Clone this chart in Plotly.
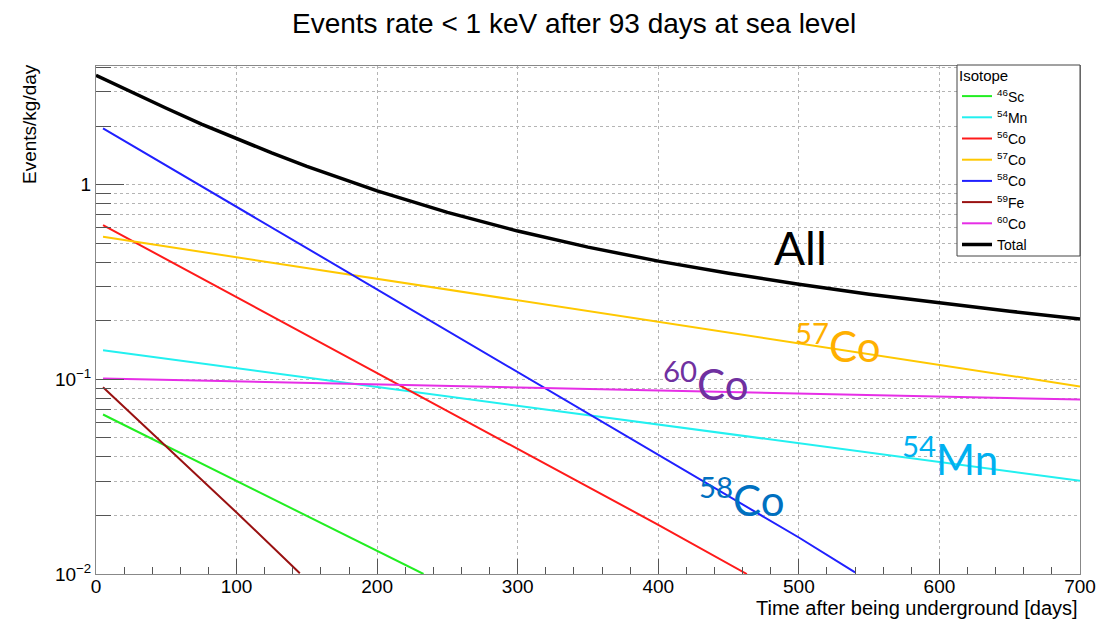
import plotly.graph_objects as go

# ---- data (days, events/kg/day) ----
sc46_days = [5, 100, 200, 233]
sc46_vals = [0.066, 0.0301, 0.0131, 0.0100]

mn54_days = [5, 100, 200, 300, 400, 500, 600, 700]
mn54_vals = [0.141, 0.1142, 0.0914, 0.0732, 0.0586, 0.0470, 0.0376, 0.0301]

co56_days = [5, 100, 200, 300, 400, 463]
co56_vals = [0.62, 0.264, 0.108, 0.0438, 0.0179, 0.0100]

co57_days = [5, 100, 200, 300, 400, 500, 600, 700]
co57_vals = [0.54, 0.424, 0.328, 0.254, 0.197, 0.153, 0.118, 0.092]

co58_days = [5, 100, 200, 300, 400, 500, 540]
co58_vals = [1.95, 0.77, 0.29, 0.109, 0.041, 0.0154, 0.0102]

fe59_days = [5, 50, 100, 145]
fe59_vals = [0.091, 0.0451, 0.0207, 0.0101]

co60_days = [5, 100, 200, 300, 400, 500, 600, 700]
co60_vals = [0.101, 0.0977, 0.0942, 0.0910, 0.0879, 0.0846, 0.0815, 0.0787]

total_days = [0, 25, 50, 75, 100, 125, 150, 175, 200, 250, 300, 350, 400,
              450, 500, 550, 600, 650, 700]
total_vals = [3.65, 2.99, 2.47, 2.05, 1.72, 1.456, 1.242, 1.069, 0.929, 0.721, 0.578,
              0.478, 0.405, 0.351, 0.308, 0.274, 0.247, 0.224, 0.204]

series_names = ["<sup>46</sup>Sc", "<sup>54</sup>Mn", "<sup>56</sup>Co", "<sup>57</sup>Co",
                "<sup>58</sup>Co", "<sup>59</sup>Fe", "<sup>60</sup>Co", "Total"]
series_x = [sc46_days, mn54_days, co56_days, co57_days, co58_days, fe59_days, co60_days, total_days]
series_y = [sc46_vals, mn54_vals, co56_vals, co57_vals, co58_vals, fe59_vals, co60_vals, total_vals]
series_colors = ["#22ee22", "#22f0f0", "#ff1a1a", "#ffc800", "#2020ff", "#991111", "#e62ee6", "#000000"]
series_widths = [2, 2, 2, 2, 2, 2, 2, 3.5]

x_ticks = [0, 100, 200, 300, 400, 500, 600, 700]
y_tickvals = [0.01, 0.1, 1]
y_ticktext = ["10<sup>\u22122</sup>", "10<sup>\u22121</sup>", "1"]
y_minor = [0.02, 0.03, 0.04, 0.05, 0.06, 0.07, 0.08, 0.09,
           0.2, 0.3, 0.4, 0.5, 0.6, 0.7, 0.8, 0.9, 2, 3, 4]

title_text = "Events rate < 1 keV after 93 days at sea level"
x_title = "Time after being underground [days]"
y_title = "Events/kg/day"

labels = ["All", "<sup>57</sup>Co", "<sup>60</sup>Co", "<sup>54</sup>Mn", "<sup>58</sup>Co"]
label_colors = ["#000000", "#ffb000", "#7030a0", "#00b0f0", "#0070c0"]
label_sizes = [46, 42, 42, 42, 42]
label_px = [800, 838, 706, 950, 742]
label_py = [247, 343, 381, 456, 497]

# ---- figure ----
W, H = 1096, 619
L, R, T, B = 96, 16, 66, 45
pw, ph = W - L - R, H - T - B
SANS = "Liberation Sans, Arial, sans-serif"


def px2paper(px, py):
    return (px - L) / pw, (H - B - py) / ph


fig = go.Figure()
for nm, xs, ys, c, w in zip(series_names, series_x, series_y, series_colors, series_widths):
    fig.add_trace(go.Scatter(x=xs, y=ys, mode="lines", name=nm,
                             line=dict(color=c, width=w)))

# legend box (fixed size like the reference)
bx0, by0 = px2paper(957, 256)
bx1, by1 = px2paper(1080, 65)
fig.add_shape(type="rect", xref="paper", yref="paper", x0=bx0, y0=by0, x1=bx1, y1=by1,
              line=dict(color="#444444", width=1), fillcolor="white", layer="above")

gridc = "#b4b4b4"
lgx, lgy = px2paper(957, 61)
fig.update_layout(
    width=W, height=H,
    margin=dict(l=L, r=R, t=T, b=B, pad=0, autoexpand=False),
    paper_bgcolor="white", plot_bgcolor="white",
    font=dict(family=SANS, color="#000000", size=16),
    showlegend=True,
    legend=dict(
        x=lgx, y=lgy, xanchor="left", yanchor="top",
        bgcolor="rgba(0,0,0,0)", borderwidth=0,
        font=dict(size=14, family=SANS),
        title=dict(text="Isotope", font=dict(size=15)),
        itemwidth=30, tracegroupgap=0,
    ),
    xaxis=dict(
        range=[0, 700], tickvals=x_ticks, ticks="inside", ticklen=15, tickcolor="#555555",
        showline=True, linecolor="#888888", linewidth=1, mirror=True,
        showgrid=True, gridcolor=gridc, griddash="dot", gridwidth=1,
        zeroline=False, tickfont=dict(size=19), automargin=False, ticklabelstandoff=-5,
        minor=dict(dtick=20, ticks="inside", ticklen=7, tickcolor="#555555", showgrid=False),
    ),
    yaxis=dict(
        type="log", range=[-2, 0.61], tickvals=y_tickvals, ticktext=y_ticktext,
        ticks="inside", ticklen=28, tickcolor="#555555",
        showline=True, linecolor="#888888", linewidth=1, mirror=True,
        showgrid=True, gridcolor=gridc, griddash="dot", gridwidth=1,
        zeroline=False, tickfont=dict(size=19), automargin=False,
        minor=dict(tickvals=y_minor, ticks="inside", ticklen=15, tickcolor="#555555",
                   showgrid=True, gridcolor=gridc, griddash="dot", gridwidth=1),
    ),
)

annotations = []
tx, ty = px2paper(574, 24)
annotations.append(dict(text=title_text, xref="paper", yref="paper", x=tx, y=ty,
                        xanchor="center", yanchor="middle", showarrow=False,
                        font=dict(size=28, family=SANS)))
ax_, ay_ = px2paper(1080, 608)
annotations.append(dict(text=x_title, xref="paper", yref="paper", x=ax_, y=ay_,
                        xanchor="right", yanchor="middle", showarrow=False,
                        font=dict(size=20, family=SANS)))
yx, yy = px2paper(29, 124)
annotations.append(dict(text=y_title, xref="paper", yref="paper", x=yx, y=yy,
                        xanchor="center", yanchor="middle", textangle=-90, showarrow=False,
                        font=dict(size=19, family=SANS)))
for t, c, s, px, py in zip(labels, label_colors, label_sizes, label_px, label_py):
    lx, ly = px2paper(px, py)
    annotations.append(dict(text=t, xref="paper", yref="paper", x=lx, y=ly,
                            xanchor="center", yanchor="middle", showarrow=False,
                            font=dict(size=s, color=c, family="Lato, Open Sans, sans-serif")))
fig.update_layout(annotations=annotations)

fig.write_html("out.html", config={"displayModeBar": False},
               post_script="document.body.style.margin='0';")
